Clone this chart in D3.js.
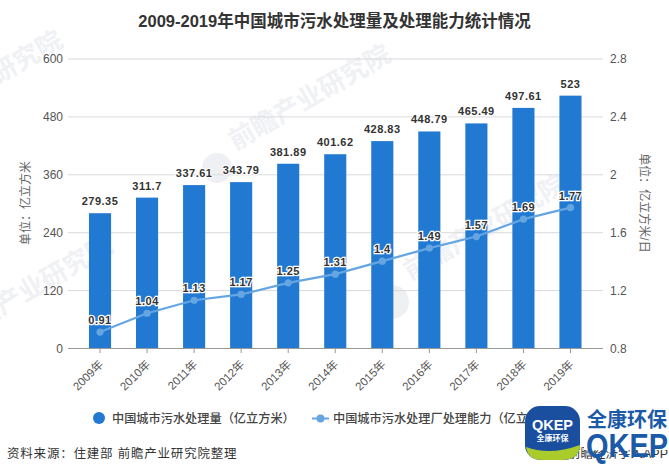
<!DOCTYPE html>
<html><head><meta charset="utf-8">
<script src="https://cdn.jsdelivr.net/npm/d3@7"></script>
<style>
html,body{margin:0;padding:0;background:#fff;overflow:hidden}
svg{display:block}
text{font-family:"Liberation Sans","Noto Sans CJK SC",sans-serif}
</style></head><body>
<svg id="c" width="669" height="474"></svg>
<script>
const years=["2009年","2010年","2011年","2012年","2013年","2014年","2015年","2016年","2017年","2018年","2019年"];
const volume=[279.35,311.7,337.61,343.79,381.89,401.62,428.83,448.79,465.49,497.61,523];
const capacity=[0.91,1.04,1.13,1.17,1.25,1.31,1.4,1.49,1.57,1.69,1.77];
const leftTicks=[0,120,240,360,480,600];
const rightTicks=[0.8,1.2,1.6,2,2.4,2.8];
const rightTickLabels=["0.8","1.2","1.6","2","2.4","2.8"];
const watermarks=[[314,105],[489,235],[36,296],[-14,91]];

const svg=d3.select("#c");
const x=d3.scaleBand().domain(years).range([76.5,594]).paddingInner(0.53).paddingOuter(0.265);
const y=d3.scaleLinear().domain([0,600]).range([348,58.5]);
const y2=d3.scaleLinear().domain([0.8,2.8]).range([348,58.5]);
const cx=d=>x(d)+x.bandwidth()/2;

// watermarks
const wm=svg.append("g");
watermarks.forEach(([a,b])=>{
  wm.append("text").attr("transform",`translate(${a},${b}) rotate(-30)`)
    .attr("text-anchor","middle").attr("font-size",26).attr("font-weight",700)
    .attr("fill","#f0f1f4").text("前瞻产业研究院");
});
wm.append("circle").attr("cx",217).attr("cy",168).attr("r",15).attr("fill","#eef0f4");
wm.append("circle").attr("cx",392).attr("cy",302).attr("r",17).attr("fill","#eef0f4");

// gridlines
svg.append("g").selectAll("line").data(leftTicks.slice(1)).join("line")
  .attr("x1",68).attr("x2",603).attr("y1",d=>y(d)+.5).attr("y2",d=>y(d)+.5)
  .attr("stroke","#d9d9dd").attr("stroke-width",1);

// bars
svg.append("g").selectAll("rect").data(years).join("rect")
  .attr("x",d=>x(d)).attr("width",x.bandwidth())
  .attr("y",(d,i)=>y(volume[i])).attr("height",(d,i)=>y(0)-y(volume[i]))
  .attr("fill","#2279d2");

// x axis
svg.append("line").attr("x1",68).attr("x2",603).attr("y1",348.5).attr("y2",348.5).attr("stroke","#999");
const xa=svg.append("g");
xa.selectAll("line").data(years).join("line")
  .attr("x1",cx).attr("x2",cx).attr("y1",348).attr("y2",353).attr("stroke","#999");
xa.selectAll("text").data(years).join("text")
  .attr("transform",d=>`translate(${cx(d)+4},${365}) rotate(-45)`)
  .attr("text-anchor","end").attr("font-size",11.5).attr("fill","#555").text(d=>d);

// y axes
svg.append("g").selectAll("text").data(leftTicks).join("text")
  .attr("x",63).attr("y",d=>y(d)+4.5).attr("text-anchor","end")
  .attr("font-size",12).attr("fill","#555").text(d=>d);
svg.append("g").selectAll("text").data(rightTicks).join("text")
  .attr("x",610).attr("y",d=>y2(d)+4.5)
  .attr("font-size",12).attr("fill","#555").text((d,i)=>rightTickLabels[i]);

// axis titles
svg.append("text").attr("transform","translate(30,203) rotate(-90)").attr("text-anchor","middle")
  .attr("font-size",12).attr("fill","#666").text("单位：亿立方米");
svg.append("text").attr("transform","translate(640,203) rotate(90)").attr("text-anchor","middle")
  .attr("font-size",12).attr("fill","#666").text("单位：亿立方米/日");

// line
const line=d3.line().x((d,i)=>cx(years[i])).y(d=>y2(d));
svg.append("path").datum(capacity).attr("d",line).attr("fill","none")
  .attr("stroke","#65a6e2").attr("stroke-width",2.2);
svg.append("g").selectAll("circle").data(capacity).join("circle")
  .attr("cx",(d,i)=>cx(years[i])).attr("cy",d=>y2(d)).attr("r",3.6).attr("fill","#65a6e2");

// labels
svg.append("g").selectAll("text").data(volume).join("text")
  .attr("x",(d,i)=>cx(years[i])).attr("y",d=>y(d)-8).attr("text-anchor","middle")
  .attr("font-size",11).attr("font-weight",700).attr("letter-spacing",.5).attr("fill","#333")
  .attr("stroke","#fff").attr("stroke-width",2).attr("paint-order","stroke").text(d=>d);
svg.append("g").selectAll("text").data(capacity).join("text")
  .attr("x",(d,i)=>cx(years[i])).attr("y",d=>y2(d)-8).attr("text-anchor","middle")
  .attr("font-size",11).attr("font-weight",700).attr("letter-spacing",.5).attr("fill","#333")
  .attr("stroke","#fff").attr("stroke-width",2.5).attr("paint-order","stroke").text(d=>d);

// title
svg.append("text").attr("x",334.5).attr("y",27).attr("text-anchor","middle")
  .attr("font-size",16.5).attr("font-weight",700).attr("fill","#333")
  .text("2009-2019年中国城市污水处理量及处理能力统计情况");

// legend
svg.append("circle").attr("cx",99).attr("cy",418).attr("r",6).attr("fill","#2279d2");
svg.append("text").attr("x",112).attr("y",423).attr("font-size",12.2).attr("font-weight",500).attr("fill","#444")
  .text("中国城市污水处理量（亿立方米）");
svg.append("line").attr("x1",312).attr("x2",329).attr("y1",418.5).attr("y2",418.5).attr("stroke","#65a6e2").attr("stroke-width",2);
svg.append("circle").attr("cx",320.5).attr("cy",418.5).attr("r",4).attr("fill","#65a6e2");
svg.append("text").attr("x",333).attr("y",423).attr("font-size",12.2).attr("font-weight",500).attr("fill","#444")
  .text("中国城市污水处理厂处理能力（亿立方米/日）");

// source
svg.append("text").attr("x",7).attr("y",458).attr("font-size",12.5).attr("letter-spacing",.8).attr("fill","#333")
  .text("资料来源：住建部 前瞻产业研究院整理");
svg.append("text").attr("x",668).attr("y",458).attr("text-anchor","end").attr("font-size",12.5).attr("fill","#333")
  .text("前瞻经济学人APP");

// logo
const logo=svg.append("g");
logo.append("rect").attr("x",525).attr("y",406).attr("width",55).attr("height",54).attr("rx",15).attr("fill","#1a4f9f");
logo.append("path").attr("d","M526 447 Q550 456 580 445 Q579 460 562 460 L542 460 Q528 460 526 447Z").attr("fill","#a9cc2a");
logo.append("text").attr("x",552.5).attr("y",430).attr("text-anchor","middle").attr("font-size",14.5).attr("font-weight",700).attr("fill","#fff").text("QKEP");
logo.append("text").attr("x",552.5).attr("y",441).attr("text-anchor","middle").attr("font-size",8).attr("font-weight",700).attr("fill","#fff").text("全康环保");
logo.append("rect").attr("x",584).attr("y",406).attr("width",85).attr("height",44).attr("fill","#fff");
logo.append("text").attr("x",587).attr("y",427).attr("font-size",20).attr("font-weight",700).attr("fill","#1a5aa8").text("全康环保");
logo.append("text").attr("x",586).attr("y",457).attr("font-size",33).attr("font-weight",700).attr("fill","#1a5aa8").attr("textLength",82).attr("lengthAdjust","spacingAndGlyphs").text("QKEP");
</script></body></html>
